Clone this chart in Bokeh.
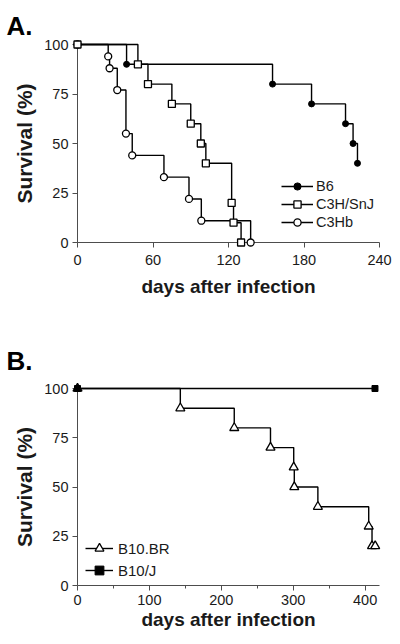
from bokeh.plotting import figure
from bokeh.models import Range1d, FixedTicker, Legend, LegendItem
from bokeh.layouts import column
from bokeh.embed import file_html
from bokeh.resources import INLINE

# ---------------- data ----------------
# Panel A
b6_days = [0, 39, 155, 186, 213, 219, 222.5]
b6_surv = [100, 90, 80, 70, 60, 50, 40]
c3hsnj_days = [0, 48, 56, 75, 90, 98, 102, 122.5, 124, 130]
c3hsnj_surv = [100, 90, 80, 70, 60, 50, 40, 20, 10, 0]
c3hb_days = [0, 24.4, 25.5, 31.6, 38.5, 43.5, 68.7, 88.6, 98.4, 137.6]
c3hb_surv = [100, 94, 88, 77, 55, 44, 33, 22, 11, 0]
# Panel B
b10br_days = [0, 143, 218, 268.4, 300.7, 301.5, 334.3, 405, 409.6, 414]
b10br_surv = [100, 90, 80, 70, 60, 50, 40, 30, 20, 20]
b10j_days = [0, 413.7]
b10j_surv = [100, 100]

a_xticks = [0, 60, 120, 180, 240]
b_xticks = [0, 100, 200, 300, 400]
b_xminor = [50, 150, 250, 350]
yticks = [0, 25, 50, 75, 100]
a_xmax = 240
b_xmax = 420

FONT = "Liberation Sans"
AXC = "#4d4d4d"
TXT = "#1a1a1a"


def make_fig(height, xmax, top, bottom, right, xticks, xminor, x_std, x_lab_std,
             title, title_standoff, title_valign):
    p = figure(width=400, height=height, x_range=Range1d(0, xmax), y_range=Range1d(0, 100),
               output_backend="svg", toolbar_location=None,
               min_border_left=77, min_border_right=right,
               min_border_top=top, min_border_bottom=bottom, title=title)
    p.grid.visible = False
    p.outline_line_color = None
    p.background_fill_color = "white"
    p.border_fill_color = "white"

    p.title.text_font = FONT
    p.title.text_font_style = "bold"
    p.title.text_font_size = "26px"
    p.title.text_color = "black"
    p.title.align = "left"
    p.title.offset = -71
    p.title.standoff = title_standoff
    p.title.vertical_align = title_valign

    xa = p.xaxis[0]
    xa.ticker = FixedTicker(ticks=xticks, minor_ticks=xminor)
    xa.axis_label = "days after infection"
    xa.axis_label_text_font = FONT
    xa.axis_label_text_font_style = "bold"
    xa.axis_label_text_font_size = "19px"
    xa.axis_label_text_color = TXT
    xa.axis_label_standoff = x_lab_std
    xa.major_label_standoff = x_std

    ya = p.yaxis[0]
    ya.ticker = FixedTicker(ticks=yticks)
    ya.axis_label = "Survival (%)"
    ya.axis_label_text_font = FONT
    ya.axis_label_text_font_style = "bold"
    ya.axis_label_text_font_size = "21px"
    ya.axis_label_text_color = TXT
    ya.axis_label_standoff = 5
    ya.major_label_standoff = 4

    for ax in (xa, ya):
        ax.axis_line_color = AXC
        ax.axis_line_width = 1
        ax.major_tick_line_color = AXC
        ax.major_tick_out = 5
        ax.major_tick_in = 0
        ax.minor_tick_out = 3
        ax.minor_tick_in = 0
        ax.major_label_text_font = FONT
        ax.major_label_text_font_size = "14.5px"
        ax.major_label_text_color = TXT
    xa.minor_tick_line_color = AXC if xminor else None
    ya.minor_tick_line_color = None
    return p


LW = 1.4
LVL = "overlay"

# ---------------- Panel A ----------------
pA = make_fig(330, a_xmax, 44, 88, 21, a_xticks, [], 7, 8, "A.", 5, "middle")

l_b6 = pA.step(b6_days, b6_surv, mode="after", line_color="black", line_width=LW, level=LVL)
s_b6 = pA.scatter(b6_days, b6_surv, marker="circle", size=6, fill_color="black",
                  line_color="black", level=LVL)
l_hb = pA.step(c3hb_days, c3hb_surv, mode="after", line_color="black", line_width=LW, level=LVL)
s_hb = pA.scatter(c3hb_days, c3hb_surv, marker="circle", size=7, fill_color="white",
                  line_color="black", line_width=1.3, level=LVL)
l_sn = pA.step(c3hsnj_days, c3hsnj_surv, mode="after", line_color="black", line_width=LW, level=LVL)
s_sn = pA.scatter(c3hsnj_days, c3hsnj_surv, marker="square", size=7, fill_color="white",
                  line_color="black", line_width=1.3, level=LVL)

legA = Legend(items=[LegendItem(label="B6", renderers=[l_b6, s_b6]),
                     LegendItem(label="C3H/SnJ", renderers=[l_sn, s_sn]),
                     LegendItem(label="C3Hb", renderers=[l_hb, s_hb])],
              location=(204, 11), glyph_width=32, glyph_height=18, label_height=18,
              label_standoff=3, padding=0, margin=0, spacing=0,
              border_line_color=None, background_fill_alpha=0,
              label_text_font=FONT, label_text_font_size="14.5px", label_text_color=TXT)
pA.add_layout(legA)

# ---------------- Panel B ----------------
pB = make_fig(314, b_xmax, 57, 59, 20, b_xticks, b_xminor, 4, 1, "B.", 26, "bottom")

l_br = pB.step(b10br_days, b10br_surv, mode="after", line_color="black", line_width=LW, level=LVL)
s_br = pB.scatter(b10br_days, b10br_surv, marker="triangle", size=9, fill_color="white",
                  line_color="black", line_width=1.3, level=LVL)
l_j = pB.line(b10j_days, b10j_surv, line_color="black", line_width=LW, level=LVL)
s_j = pB.scatter(b10j_days, b10j_surv, marker="square", size=6, fill_color="black",
                 line_color="black", level=LVL)

legB = Legend(items=[LegendItem(label="B10.BR", renderers=[l_br, s_br]),
                     LegendItem(label="B10/J", renderers=[l_j, s_j])],
              location=(8, 4), glyph_width=28, glyph_height=22, label_height=22,
              label_standoff=5, padding=0, margin=0, spacing=0,
              border_line_color=None, background_fill_alpha=0,
              label_text_font=FONT, label_text_font_size="15px", label_text_color=TXT)
pB.add_layout(legB)

layout = column(pA, pB, spacing=0)
open("out.html", "w").write(file_html(layout, INLINE))
